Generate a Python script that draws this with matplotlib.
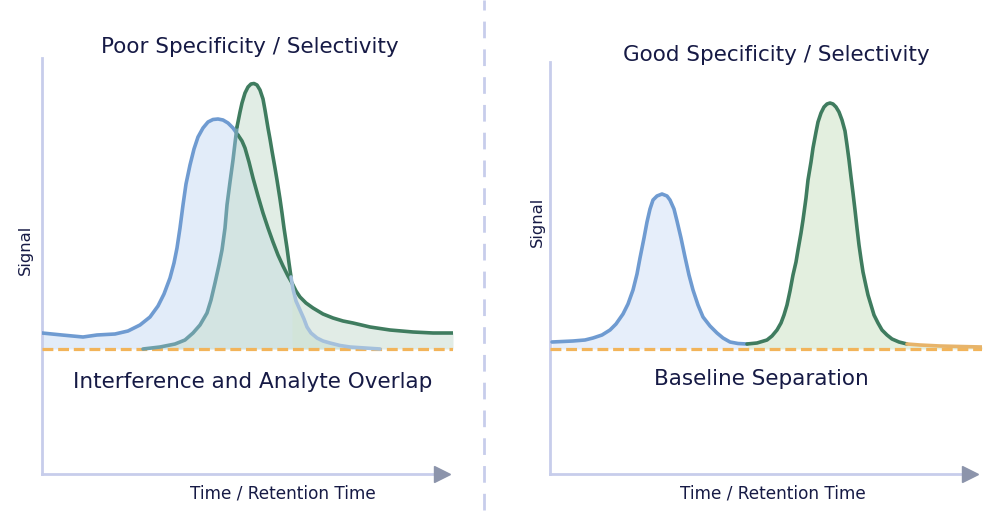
import numpy as np
import matplotlib
matplotlib.use('Agg')
import matplotlib.pyplot as plt
from matplotlib.lines import Line2D

plt.rcParams['font.family'] = ['DejaVu Sans']

# ---- data (time and signal in arbitrary units, baseline = 0) ----
# left panel, interferent peak (blue, ends in the long tail)
poor_a_time = [0, 20, 41, 55, 73, 86, 98, 108, 116, 122, 128, 132, 135, 138, 141, 144, 148, 152,
               156, 161, 166, 171, 176, 181, 186, 191, 196, 200, 203, 207, 211, 216, 221, 226,
               231, 236, 241, 246, 250, 254, 258, 264, 271, 281, 291, 301, 311, 328, 348, 371,
               391, 411]
poor_a_sig = [16, 14, 12, 14, 15, 18, 24, 32, 43, 55, 71, 86, 101, 121, 144, 165, 184, 200,
              212, 221, 227, 229.5, 230, 229, 226, 221, 214, 208, 201, 187, 171, 153, 136, 121,
              107, 94, 83, 73, 66, 58, 52, 46, 41, 35, 31, 28, 26, 22, 19, 17,
              16, 16]
# left panel, analyte peak (green)
poor_b_time = [101, 118, 133, 143, 151, 158, 165, 169, 173, 177, 180, 183, 185, 188, 191, 193,
               195, 198, 200, 203, 206, 209, 212, 215, 218, 221, 223, 226, 228, 230, 233, 235,
               238, 240, 242, 245, 247, 249, 251, 254, 258, 262, 265, 269, 275, 281, 288, 298,
               308, 323, 338]
poor_b_sig = [0, 2, 5, 9, 16, 24, 36, 49, 66, 84, 99, 121, 144, 167, 189, 206,
              222, 237, 246, 256, 262, 265, 265.5, 264, 259, 250, 239, 221, 210, 198, 181, 169,
              150, 136, 121, 101, 86, 72, 60, 48, 39, 30, 22, 16, 11, 8, 6, 3.5,
              2, 1, 0]

# right panel, interferent peak (blue)
good_a_time = [2, 23, 35, 43, 52, 60, 66, 73, 78, 83, 87, 90, 94, 97, 100, 103, 107, 112,
               117, 120, 124, 127, 131, 135, 139, 143, 148, 153, 160, 167, 173, 180, 188, 197]
good_a_sig = [7, 8, 9, 11, 14, 19, 25, 35, 45, 59, 75, 91, 111, 127, 140, 149, 153, 155,
              153, 149, 140, 128, 111, 92, 74, 59, 44, 32, 23, 16, 11, 7, 5.5, 5]
# right panel, analyte peak (green)
good_b_time = [197, 207, 217, 222, 227, 231, 234, 237, 240, 243, 246, 248, 251, 253, 256, 258,
               261, 263, 266, 268, 271, 274, 277, 280, 283, 286, 289, 292, 295, 297, 299, 301,
               303, 305, 307, 309, 311, 313, 316, 318, 321, 324, 328, 332, 337, 342, 349, 357,
               370, 390, 410, 432]
good_b_sig = [5, 6, 9, 13, 19, 26, 34, 44, 58, 74, 87, 99, 116, 129, 151, 169,
              187, 201, 217, 227, 236, 242, 245, 246, 245, 242, 237, 229, 218, 204, 189, 172,
              156, 139, 121, 104, 90, 77, 63, 54, 44, 34, 26, 19, 14, 10, 7, 5,
              4, 3, 2.5, 2]

titles = ['Poor Specificity / Selectivity', 'Good Specificity / Selectivity']
notes = ['Interference and Analyte Overlap', 'Baseline Separation']
xlabel = 'Time / Retention Time'
ylabel = 'Signal'

# ---- style ----
BLUE = '#6f9bd1'
GREEN = '#3f7c5f'
TEAL = '#6e9fa9'
FADE_BLUE = '#a4c0dc'
ORANGE = '#f2b45a'
AXIS = '#c7cdeb'
ARROW = '#8c94ab'
TEXT = '#161a45'
LW = 2.6

fig = plt.figure(figsize=(10, 5.2), dpi=100)


def px_axes(x0, x1, ytop, ybot):
    return fig.add_axes([x0 / 1000, 1 - ybot / 520, (x1 - x0) / 1000, (ybot - ytop) / 520])


def frame(ax, xmax, ylo, yhi, tip):
    ax.set_xlim(0, xmax)
    ax.set_ylim(ylo, yhi)
    ax.set_xticks([])
    ax.set_yticks([])
    for s in ['top', 'right', 'bottom']:
        ax.spines[s].set_visible(False)
    ax.spines['left'].set_color(AXIS)
    ax.spines['left'].set_linewidth(2)
    ax.patch.set_alpha(0)
    ax.plot([0, tip - 0.03], [0, 0], color=AXIS, lw=2, transform=ax.transAxes, clip_on=False)
    ax.plot([tip - 0.012], [0], marker='>', ms=11, color=ARROW, mec=ARROW,
            transform=ax.transAxes, clip_on=False)
    # dashed baseline
    ax.plot([0, xmax], [0, 0], color=ORANGE, lw=2.3, dashes=(3.4, 1.5), zorder=5)


def seg(ax, t, s, i0, i1, color):
    ax.plot(t[i0:i1], s[i0:i1], color=color, lw=LW, solid_capstyle='round',
            solid_joinstyle='round', zorder=6)


# ---- left panel ----
ax1 = px_axes(42, 453, 58, 474)
frame(ax1, 411, -125, 291, 0.985)
ta, sa = np.array(poor_a_time), np.array(poor_a_sig)
tb, sb = np.array(poor_b_time), np.array(poor_b_sig)
ax1.fill_between(ta, sa, 0, where=ta <= 250, color='#e2ecf9', lw=0, interpolate=True)
ax1.fill_between(ta, sa, 0, where=ta >= 250, color='#e1ece6', lw=0, interpolate=True)
ax1.fill_between(tb, sb, 0, color='#c5ddcd', alpha=0.5, lw=0)
# interferent: blue until it meets the analyte's rising edge, then drawn green
seg(ax1, ta, sa, 0, 27, BLUE)
seg(ax1, ta, sa, 26, None, GREEN)
# analyte: teal inside the blue area, green at the peak, faded blue at the end
seg(ax1, tb, sb, 0, 17, TEAL)
seg(ax1, tb, sb, 16, 38, GREEN)
seg(ax1, tb, sb, 37, None, FADE_BLUE)

# ---- right panel ----
ax2 = px_axes(550, 982, 62, 474)
frame(ax2, 432, -125, 287, 0.984)
ga_t, ga_s = np.array(good_a_time), np.array(good_a_sig)
gb_t, gb_s = np.array(good_b_time), np.array(good_b_sig)
ax2.fill_between(ga_t, ga_s, 0, color='#e6eefa', lw=0)
ax2.fill_between(gb_t, gb_s, 0, color='#e3efdf', lw=0)
seg(ax2, ga_t, ga_s, 0, None, BLUE)
seg(ax2, gb_t, gb_s, 0, 48, GREEN)
seg(ax2, gb_t, gb_s, 47, None, '#e7b46a')

# ---- divider ----
fig.add_artist(Line2D([0.484, 0.484], [0.02, 1.0], color=AXIS, lw=2, dashes=(6, 4)))


# ---- text ----
def ftext(x, y, s, size, **kw):
    fig.text(x / 1000, 1 - y / 520, s, fontsize=size, color=TEXT, ha='center', va='center', **kw)


ftext(250, 47, titles[0], 15.5)
ftext(776, 55, titles[1], 15.5)
ftext(253, 382, notes[0], 15.5)
ftext(761, 379, notes[1], 15.5)
ftext(283, 494, xlabel, 12.2)
ftext(773, 494, xlabel, 12.2)
ftext(25, 250, ylabel, 11.8, rotation=90)
ftext(537, 222, ylabel, 11.8, rotation=90)

fig.savefig('out.png', dpi=100)
